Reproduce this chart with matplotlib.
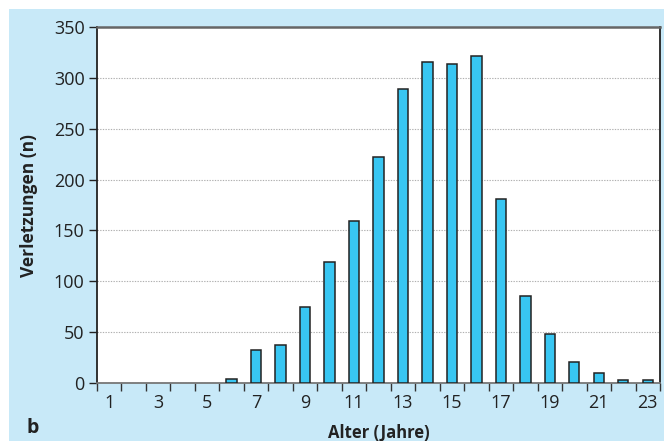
import numpy as np
import matplotlib.pyplot as plt
from matplotlib.patches import Rectangle

# age in years and number of injuries
alter = list(range(1, 24))
verletzungen = [0, 0, 0, 0, 0, 4, 32, 37, 75, 119, 159, 222, 289, 316, 314, 321,
                181, 86, 48, 21, 10, 3, 3]
yticks = [0, 50, 100, 150, 200, 250, 300, 350]
xlabels = [1, 3, 5, 7, 9, 11, 13, 15, 17, 19, 21, 23]

plt.rcParams['font.family'] = ['Open Sans', 'DejaVu Sans']

fig = plt.figure(figsize=(6.64, 4.41), dpi=100)
fig.patch.set_facecolor('white')
# light blue panel, leaving a thin white margin on top and left
fig.patches.append(Rectangle((9 / 664, 0), 1, 1 - 9 / 441, transform=fig.transFigure,
                             facecolor='#c8e9f8', edgecolor='none', zorder=-10))

ax = fig.add_axes([97 / 664, 1 - 383 / 441, (660 - 97) / 664, (383 - 27) / 441])
ax.set_facecolor('white')

# empty age groups get no bar at all
x = np.array(alter)
y = np.array(verletzungen)
keep = y > 0
ax.bar(x[keep], y[keep], width=0.42, color='#38c6f2', edgecolor='#222222',
       linewidth=1.1, zorder=3)

ax.set_xlim(0.5, 23.5)
ax.set_ylim(0, 350)
ax.set_yticks(yticks)
ax.yaxis.grid(True, linestyle=(0, (1.2, 1.2)), color='#b0b0b0', linewidth=0.8, zorder=0)

ax.set_xticks(xlabels)
ax.set_xticks(np.arange(0.5, 24, 1), minor=True)
ax.tick_params(axis='x', which='major', length=0, pad=8, labelsize=13, colors='#222222')
ax.tick_params(axis='x', which='minor', length=6, width=1, color='#333333')
ax.tick_params(axis='y', length=6, width=1, labelsize=13, pad=3, colors='#222222')

for side in ['left', 'right']:
    ax.spines[side].set_color('#222222')
    ax.spines[side].set_linewidth(1.3)
ax.spines['top'].set_color('#666666')
ax.spines['top'].set_linewidth(1.8)
ax.spines['bottom'].set_color('#777777')
ax.spines['bottom'].set_linewidth(1.3)

ax.set_xlabel('Alter (Jahre)', fontsize=12, fontweight='bold', labelpad=8, color='#222222')
ax.set_ylabel('Verletzungen (n)', fontsize=12.5, fontweight='bold', labelpad=11, color='#222222')

fig.text(27 / 664, 1 - 428 / 441, 'b', fontsize=14, fontweight='bold', ha='left',
         va='center', color='#222222')

fig.savefig('out.png', dpi=100, facecolor=fig.get_facecolor())
